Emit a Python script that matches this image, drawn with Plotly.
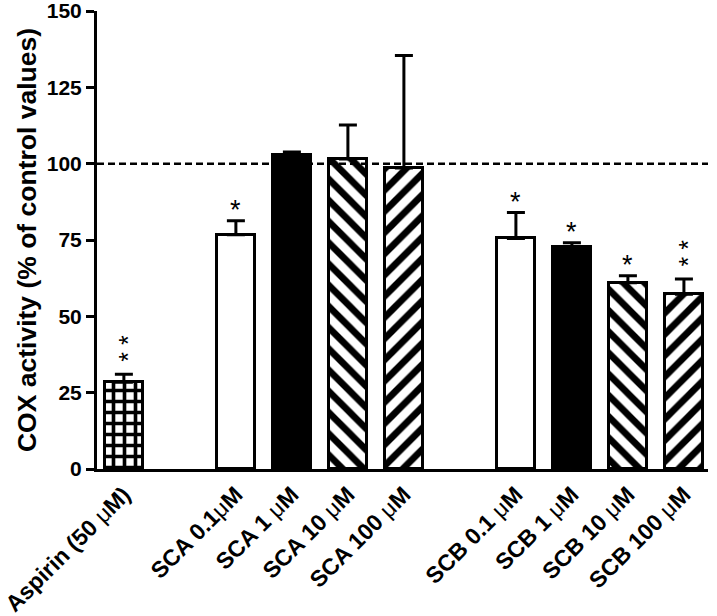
import plotly.graph_objects as go

# ---- data ----
categories = ["Aspirin (50 μM)", "SCA 0.1μM", "SCA 1 μM", "SCA 10 μM", "SCA 100 μM",
              "SCB 0.1 μM", "SCB 1 μM", "SCB 10 μM", "SCB 100 μM"]
positions = [0, 2, 3, 4, 5, 7, 8, 9, 10]
values = [28.4, 76.7, 103.0, 101.5, 98.6, 75.5, 72.7, 61.0, 57.2]
errors = [2.6, 4.6, 0.8, 11.2, 36.8, 8.5, 1.4, 2.3, 5.0]
stars = ["**", "*", "", "", "", "*", "*", "*", "**"]
fills = ["grid", "white", "black", "back", "fwd", "white", "black", "back", "fwd"]
y_ticks = [0, 25, 50, 75, 100, 125, 150]
control_level = 100

FONT = "Liberation Sans, Arial, sans-serif"

fig = go.Figure()

for pos, val, err, fill in zip(positions, values, errors, fills):
    if fill == "grid":
        color, pat = "white", dict(shape="+", fgcolor="black", bgcolor="white", size=11,
                                   solidity=0.55, fgopacity=1)
    elif fill == "white":
        color, pat = "white", dict(shape="")
    elif fill == "black":
        color, pat = "black", dict(shape="")
    elif fill == "back":
        color, pat = "white", dict(shape="\\", fgcolor="black", bgcolor="white", size=15,
                                   solidity=0.45, fgopacity=1)
    else:
        color, pat = "white", dict(shape="/", fgcolor="black", bgcolor="white", size=15,
                                   solidity=0.45, fgopacity=1)
    fig.add_trace(go.Bar(
        x=[pos], y=[val], width=0.68,
        marker=dict(color=color, pattern=pat, line=dict(color="black", width=3)),
        error_y=dict(type="data", symmetric=False, array=[err], arrayminus=[0],
                     color="black", thickness=3, width=9),
        showlegend=False, hoverinfo="y",
    ))

annotations = []
for pos, val, err, s in zip(positions, values, errors, stars):
    if not s:
        continue
    if len(s) == 1:
        annotations.append(dict(
            x=pos, y=val + err, xref="x", yref="y", text=s, showarrow=False,
            yanchor="bottom", yshift=-6,
            font=dict(family=FONT, size=27, color="black"),
        ))
    else:
        annotations.append(dict(
            x=pos, y=val + err, xref="x", yref="y", text=" ".join(s), showarrow=False,
            yanchor="bottom", textangle=-90, yshift=11, xshift=4,
            font=dict(family=FONT, size=25, color="black"),
        ))

ticktext = ["<b>" + c.replace("μ", "</b>μ<b>") + "</b>" for c in categories]

fig.add_shape(type="line", xref="paper", x0=0, x1=1, yref="y", y0=control_level, y1=control_level,
              line=dict(color="black", width=2.5, dash="7px,4px"))

fig.update_layout(
    width=717, height=616,
    margin=dict(l=97, r=9, t=11, b=147, autoexpand=False),
    plot_bgcolor="white", paper_bgcolor="white",
    font=dict(family=FONT, color="black"),
    annotations=annotations,
    bargap=0,
)
fig.update_xaxes(
    range=[-0.48, 10.43], tickmode="array", tickvals=positions, ticktext=ticktext,
    tickangle=-45, tickfont=dict(family=FONT, size=23, color="black"),
    showline=True, linecolor="black", linewidth=3, ticks="", showgrid=False, zeroline=False,
    automargin=False,
)
fig.update_yaxes(
    range=[0, 150], tickmode="array", tickvals=y_ticks,
    tickfont=dict(family=FONT, size=21, color="black", weight="bold"),
    showline=True, linecolor="black", linewidth=3, ticks="outside", ticklen=8, tickwidth=3,
    tickcolor="black", showgrid=False, zeroline=False, automargin=False,
    ticklabeloverflow="allow",
    title=dict(text="<b>COX activity (% of control values)</b>",
               font=dict(family=FONT, size=26.5, color="black"), standoff=3),
)

fig.write_html("out.html", post_script="document.body.style.margin='0px';",
               config={"displayModeBar": False})
